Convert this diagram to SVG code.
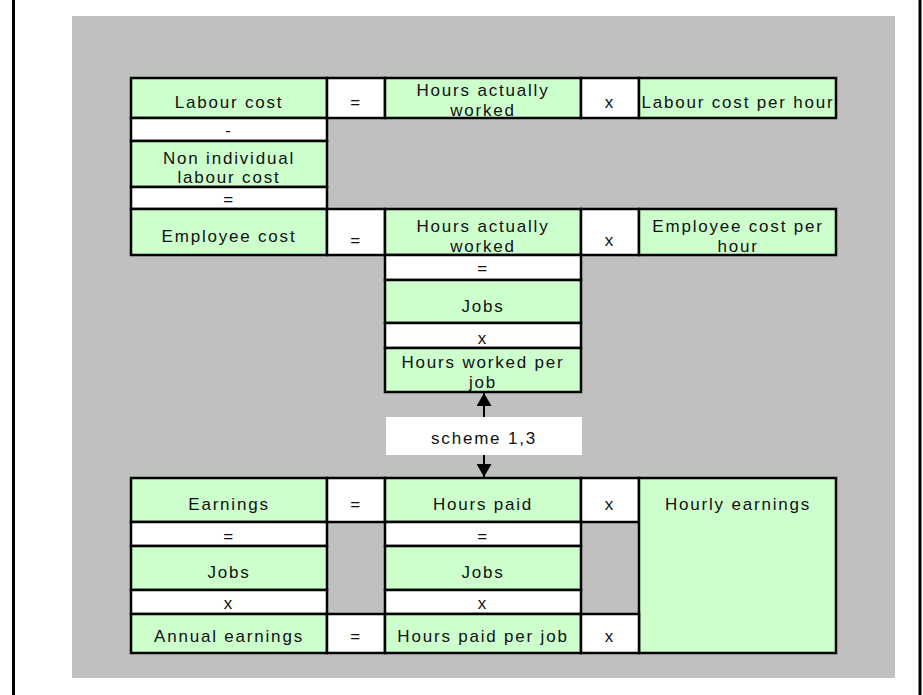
<svg xmlns="http://www.w3.org/2000/svg" width="923" height="695" viewBox="0 0 923 695">
<style>
  .g { fill: #CCFFCC; stroke: #000; stroke-width: 2.5; }
  .w { fill: #FFFFFF; stroke: #000; stroke-width: 2.5; }
  .t { font-family: "Liberation Sans", Arial, sans-serif; font-size: 17px; letter-spacing: 1.8px; fill: #111; text-anchor: middle; }
  .frame { stroke: #000; stroke-width: 3; }
  .conn { stroke: #000; stroke-width: 2; fill: none; }
</style>
<defs>
  <marker id="ah" viewBox="0 0 13 15" refX="13" refY="7.5" markerWidth="13" markerHeight="15" markerUnits="userSpaceOnUse" orient="auto-start-reverse">
    <path d="M0,0 L13,7.5 L0,15 Z" fill="#000"/>
  </marker>
</defs>
<rect x="0" y="0" width="923" height="695" fill="#FFFFFF"/>
<line class="frame" x1="13.5" y1="0" x2="13.5" y2="695"/>
<line class="frame" x1="920" y1="0" x2="920" y2="695"/>
<rect x="72" y="16" width="823" height="662" fill="#C0C0C0"/>

<g id="connectors">
  <line class="conn" x1="484" y1="436" x2="484" y2="393" marker-end="url(#ah)"/>
  <line class="conn" x1="484" y1="436" x2="484" y2="477" marker-end="url(#ah)"/>
</g>

<g id="labour_cost"><rect class="g" x="131" y="78" width="196" height="40"/><text class="t" x="229" y="108">Labour cost</text></g>
<g id="eq1"><rect class="w" x="327" y="78" width="58" height="40"/><text class="t" x="356" y="108">=</text></g>
<g id="hours_worked_1"><rect class="g" x="385" y="78" width="196" height="40"/><text class="t" x="483" y="96">Hours actually</text><text class="t" x="483" y="116">worked</text></g>
<g id="x1"><rect class="w" x="581" y="78" width="58" height="40"/><text class="t" x="610" y="108">x</text></g>
<g id="labour_cost_per_hour"><rect class="g" x="639" y="78" width="197" height="40"/><text class="t" x="738" y="108">Labour cost per hour</text></g>

<g id="minus"><rect class="w" x="131" y="118" width="196" height="23"/><text class="t" x="229" y="136">-</text></g>
<g id="non_individual"><rect class="g" x="131" y="141" width="196" height="46"/><text class="t" x="229" y="164">Non individual</text><text class="t" x="229" y="183">labour cost</text></g>
<g id="eq2"><rect class="w" x="131" y="187" width="196" height="22"/><text class="t" x="229" y="205">=</text></g>

<g id="employee_cost"><rect class="g" x="131" y="209" width="196" height="46"/><text class="t" x="229" y="242">Employee cost</text></g>
<g id="eq3"><rect class="w" x="327" y="209" width="58" height="46"/><text class="t" x="356" y="246">=</text></g>
<g id="hours_worked_2"><rect class="g" x="385" y="209" width="196" height="46"/><text class="t" x="483" y="232">Hours actually</text><text class="t" x="483" y="252">worked</text></g>
<g id="x2"><rect class="w" x="581" y="209" width="58" height="46"/><text class="t" x="610" y="246">x</text></g>
<g id="employee_cost_per_hour"><rect class="g" x="639" y="209" width="197" height="46"/><text class="t" x="738" y="232">Employee cost per</text><text class="t" x="738" y="252">hour</text></g>

<g id="eq4"><rect class="w" x="385" y="255" width="196" height="25"/><text class="t" x="483" y="274">=</text></g>
<g id="jobs_1"><rect class="g" x="385" y="280" width="196" height="43"/><text class="t" x="483" y="312">Jobs</text></g>
<g id="x3"><rect class="w" x="385" y="323" width="196" height="25"/><text class="t" x="483" y="344">x</text></g>
<g id="hours_worked_per_job"><rect class="g" x="385" y="348" width="196" height="44"/><text class="t" x="483" y="368">Hours worked per</text><text class="t" x="483" y="388">job</text></g>

<g id="scheme_label"><rect x="386" y="417" width="196" height="38" fill="#FFFFFF"/><text class="t" x="484" y="444">scheme 1,3</text></g>

<g id="earnings"><rect class="g" x="131" y="478" width="196" height="44"/><text class="t" x="229" y="510">Earnings</text></g>
<g id="eq5"><rect class="w" x="327" y="478" width="58" height="44"/><text class="t" x="356" y="510">=</text></g>
<g id="hours_paid"><rect class="g" x="385" y="478" width="196" height="44"/><text class="t" x="483" y="510">Hours paid</text></g>
<g id="x4"><rect class="w" x="581" y="478" width="58" height="44"/><text class="t" x="610" y="510">x</text></g>
<g id="hourly_earnings"><rect class="g" x="639" y="478" width="197" height="175"/><text class="t" x="738" y="510">Hourly earnings</text></g>

<g id="eq6"><rect class="w" x="131" y="522" width="196" height="24"/><text class="t" x="229" y="542">=</text></g>
<g id="eq7"><rect class="w" x="385" y="522" width="196" height="24"/><text class="t" x="483" y="542">=</text></g>
<g id="jobs_2"><rect class="g" x="131" y="546" width="196" height="44"/><text class="t" x="229" y="578">Jobs</text></g>
<g id="jobs_3"><rect class="g" x="385" y="546" width="196" height="44"/><text class="t" x="483" y="578">Jobs</text></g>
<g id="x5"><rect class="w" x="131" y="590" width="196" height="24"/><text class="t" x="229" y="609">x</text></g>
<g id="x6"><rect class="w" x="385" y="590" width="196" height="24"/><text class="t" x="483" y="609">x</text></g>

<g id="annual_earnings"><rect class="g" x="131" y="614" width="196" height="39"/><text class="t" x="229" y="642">Annual earnings</text></g>
<g id="eq8"><rect class="w" x="327" y="614" width="58" height="39"/><text class="t" x="356" y="642">=</text></g>
<g id="hours_paid_per_job"><rect class="g" x="385" y="614" width="196" height="39"/><text class="t" x="483" y="642">Hours paid per job</text></g>
<g id="x7"><rect class="w" x="581" y="614" width="58" height="39"/><text class="t" x="610" y="642">x</text></g>
</svg>
